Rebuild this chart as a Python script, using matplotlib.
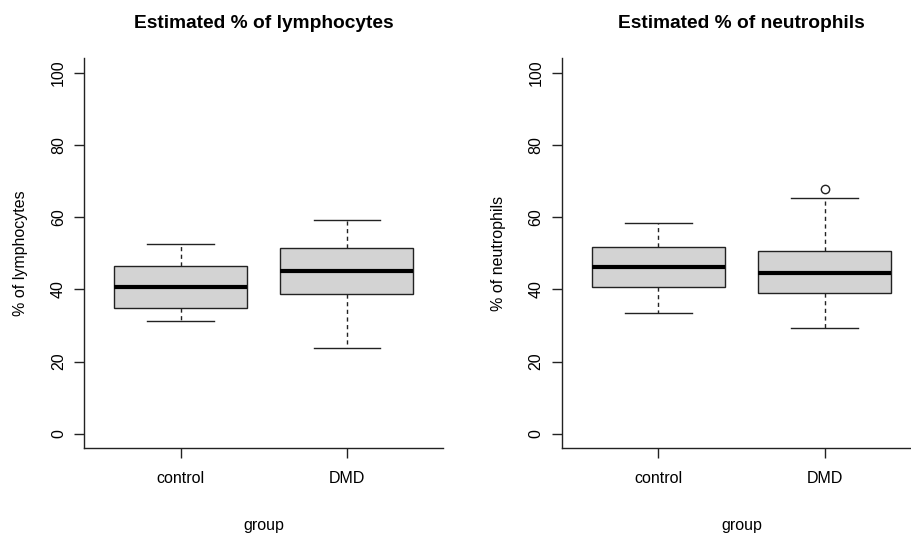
import matplotlib.pyplot as plt

plt.rcParams['font.family'] = ['Liberation Sans', 'DejaVu Sans']

groups = ["control", "DMD"]

# five-number summaries: low whisker, Q1, median, Q3, high whisker
lymph_stats = [
    [31.3, 34.8, 40.6, 46.6, 52.5],
    [23.7, 38.7, 45.0, 51.4, 59.2],
]
lymph_outliers = [[], []]

neut_stats = [
    [33.4, 40.6, 46.1, 51.8, 58.3],
    [29.2, 38.9, 44.6, 50.5, 65.4],
]
neut_outliers = [[], [67.7]]

yticks = [0, 20, 40, 60, 80, 100]

W, H = 912, 533
fig = plt.figure(figsize=(W / 100, H / 100), dpi=100)


def panel(left_px, stats, outliers, title, ylabel):
    ax = fig.add_axes([left_px / W, (H - 448.3) / H, 359 / W, 390 / H])
    bxp = []
    for g, s, o in zip(groups, stats, outliers):
        bxp.append(dict(label=g, whislo=s[0], q1=s[1], med=s[2], q3=s[3],
                        whishi=s[4], fliers=o))
    ax.bxp(bxp, positions=[1, 2], widths=0.8, patch_artist=True,
           boxprops=dict(facecolor="#d3d3d3", edgecolor="#222222", linewidth=1.0),
           medianprops=dict(color="black", linewidth=3.0, solid_capstyle="butt"),
           whiskerprops=dict(color="#222222", linewidth=1.0, linestyle=(0, (3, 2.5))),
           capprops=dict(color="#222222", linewidth=1.0),
           capwidths=0.4,
           flierprops=dict(marker="o", markerfacecolor="none", markeredgecolor="#222222",
                           markersize=6, markeredgewidth=1.0))
    ax.set_xlim(0.42, 2.58)
    ax.set_ylim(-4, 104)
    ax.set_yticks(yticks)
    ax.set_yticklabels([str(v) for v in yticks], rotation=90, va="center")
    ax.set_xticks([1, 2])
    ax.set_xticklabels(groups)
    for side in ["top", "right"]:
        ax.spines[side].set_visible(False)
    for side in ["left", "bottom"]:
        ax.spines[side].set_color("#222222")
        ax.spines[side].set_linewidth(1.0)
    ax.tick_params(axis="both", length=7.2, width=1.0, color="#222222",
                   labelsize=11.5, direction="out")
    ax.tick_params(axis="y", pad=6)
    ax.tick_params(axis="x", pad=9)
    ax.set_title(title, fontsize=13.8, fontweight="bold", pad=22)
    ax.set_xlabel("group", fontsize=11.5, labelpad=23.5)
    ax.set_ylabel(ylabel, fontsize=11.5, labelpad=16.5)
    return ax


panel(84.3, lymph_stats, lymph_outliers, "Estimated % of lymphocytes", "% of lymphocytes")
panel(562.0, neut_stats, neut_outliers, "Estimated % of neutrophils", "% of neutrophils")

fig.savefig("out.png", dpi=100)
